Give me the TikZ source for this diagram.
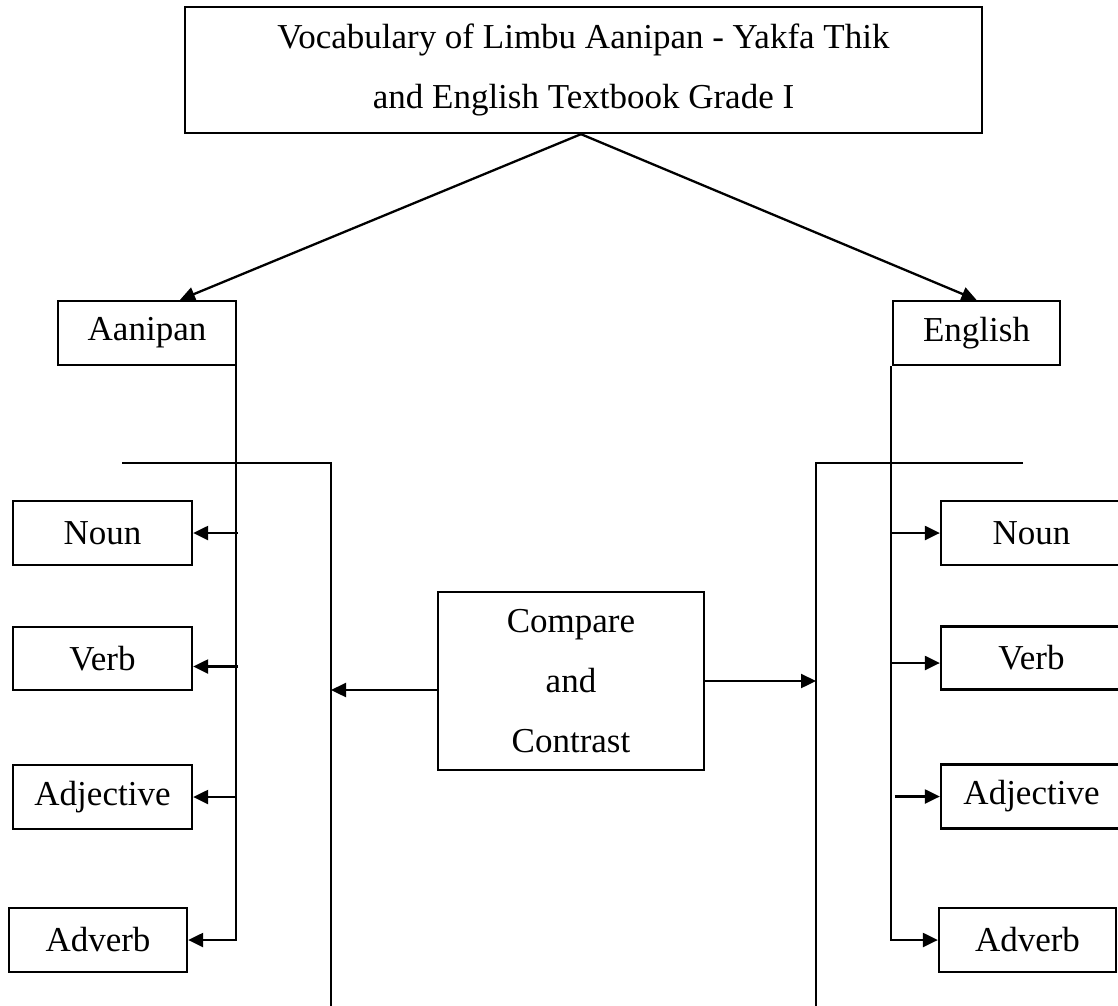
\documentclass[tikz,border=0pt]{standalone}
\usepackage{fontspec}
\setmainfont{Liberation Serif}
\usetikzlibrary{arrows.meta,calc}
\begin{document}
\begin{tikzpicture}[x=1pt,y=-1pt,
  box/.style={draw,line width=2.3pt,inner sep=0pt,align=center,
    font=\fontsize{35}{60}\selectfont},
  wordbox/.style={box,minimum width=179pt,minimum height=64pt},
  conn/.style={line width=2.3pt},
  arr/.style={conn,-{Triangle[length=15pt,width=14pt]}}]
\useasboundingbox (0,0) rectangle (1118,1005);

% title and the two languages
\node[box,minimum width=797pt,minimum height=126pt] (top) at (583.5,70)
  {Vocabulary of Limbu Aanipan - Yakfa Thik\\and English Textbook Grade I};
\node[box,minimum width=178pt,minimum height=64pt] (ani) at (147,333) {Aanipan};
\node[box,minimum width=167pt,minimum height=64pt] (eng) at (976.5,333) {English};

% word classes, left column
\node[wordbox] (nounL) at (102.5,533) {Noun};
\node[wordbox,minimum height=63pt] (verbL) at (102.5,658.5) {Verb};
\node[wordbox] (adjL) at (102.5,797) {Adjective};
\node[wordbox,minimum width=178pt] (advL) at (98,940) {Adverb};

% word classes, right column
\node[wordbox,minimum width=181pt] (nounR) at (1031.5,533) {Noun};
\node[wordbox,minimum width=181pt,minimum height=63pt] (verbR) at (1031.5,658) {Verb};
\node[wordbox,minimum width=181pt] (adjR) at (1031.5,796.5) {Adjective};
\node[wordbox,minimum width=177pt] (advR) at (1027.5,940) {Adverb};

% centre box
\node[box,minimum width=266pt,minimum height=178pt] (cmp) at (571,681)
  {Compare\\and\\Contrast};

% brackets
\coordinate (lbA) at (122,463);
\coordinate (lbB) at (331,463);
\coordinate (lbC) at (331,1012);
\coordinate (rbA) at (1023,463);
\coordinate (rbB) at (816,463);
\coordinate (rbC) at (816,1012);
\draw[conn] (lbA) -- (lbB) -- (lbC);
\draw[conn] (rbA) -- (rbB) -- (rbC);

% title to languages
\draw[arr] ($(top.south)+(-2.5,0)$) -- ($(ani.north)+(33,0)$);
\draw[arr] ($(top.south)+(-2.5,0)$) -- (eng.north);

% Aanipan spine
\coordinate (aS) at ($(ani.south east)+(-1,0)$);
\draw[arr] (aS) |- (advL.east);
\draw[arr] ($(aS |- nounL.east)+(2,0)$) -- (nounL.east);
\draw[arr] ($(aS |- verbL.east)+(2,8)$) -- ($(verbL.east)+(0,8)$);
\draw[arr] (aS |- adjL.east) -- (adjL.east);

% English spine
\coordinate (eS) at ($(eng.south west)+(-1,0)$);
\draw[arr] (eS) |- (advR.west);
\draw[arr] (eS |- nounR.west) -- (nounR.west);
\draw[arr] ($(eS |- verbR.west)+(0,5)$) -- ($(verbR.west)+(0,5)$);
\draw[arr] ($(eS |- adjR.west)+(4,0)$) -- (adjR.west);

% compare and contrast to both brackets
\draw[arr] ($(cmp.west)+(0,9)$) -- ($(lbB |- cmp.west)+(0,9)$);
\draw[arr] (cmp.east) -- (rbB |- cmp.east);
\end{tikzpicture}
\end{document}
